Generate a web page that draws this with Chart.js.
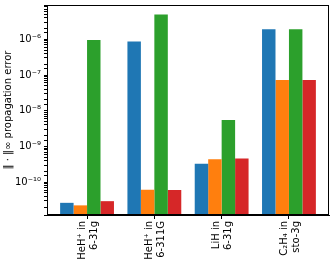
<!DOCTYPE html>
<html>
<head>
<meta charset="utf-8">
<script src="https://cdn.jsdelivr.net/npm/chart.js@4.4.0/dist/chart.umd.min.js"></script>
<style>
  html, body { margin: 0; padding: 0; background: #fff; }
  #wrap { width: 332px; height: 268px; }
</style>
</head>
<body>
<div id="wrap"><canvas id="chart"></canvas></div>
<script>
// systems / basis sets on the x axis
const systems = [
  ['HeH\u207A in', '6-31g'],
  ['HeH\u207A in', '6-311G'],
  ['LiH in', '6-31g'],
  ['C\u2082H\u2084 in', 'sto-3g'],
];

// propagation error per method
const errBlue   = [2.65e-11, 8.6e-7, 3.3e-10, 1.9e-6];
const errOrange = [2.25e-11, 6.2e-11, 4.4e-10, 7.2e-8];
const errGreen  = [9.5e-7, 4.9e-6, 5.5e-9, 1.9e-6];
const errRed    = [2.95e-11, 6.1e-11, 4.6e-10, 7.2e-8];

const supDigits = { '-': '\u207B', '0': '\u2070', '1': '\u00B9', '2': '\u00B2', '3': '\u00B3',
  '4': '\u2074', '5': '\u2075', '6': '\u2076', '7': '\u2077', '8': '\u2078', '9': '\u2079' };

const toPoints = (arr) => arr.map((v, i) => ({ x: i, y: v }));

const frame = {
  id: 'frame',
  afterDraw(chart) {
    const a = chart.chartArea;
    const ctx = chart.ctx;
    ctx.save();
    ctx.strokeStyle = '#000';
    ctx.lineWidth = 1;
    ctx.strokeRect(a.left + 0.5, a.top + 0.5, a.right - a.left - 1, a.bottom - a.top - 1);
    ctx.restore();
  }
};

Chart.defaults.font.family = 'DejaVu Sans';
Chart.defaults.color = '#000';

const canvas = document.getElementById('chart');
new Chart(canvas, {
  type: 'bar',
  data: {
    datasets: [
      { label: 'blue', data: toPoints(errBlue), backgroundColor: '#1f77b4' },
      { label: 'orange', data: toPoints(errOrange), backgroundColor: '#ff7f0e' },
      { label: 'green', data: toPoints(errGreen), backgroundColor: '#2ca02c' },
      { label: 'red', data: toPoints(errRed), backgroundColor: '#d62728' },
    ],
  },
  options: {
    responsive: true,
    maintainAspectRatio: false,
    animation: false,
    layout: { padding: { top: 5, right: 3, left: 0, bottom: 0 } },
    datasets: { bar: { categoryPercentage: 0.8, barPercentage: 1.0, base: 1e-12 } },
    plugins: { legend: { display: false }, tooltip: { enabled: false } },
    scales: {
      x: {
        type: 'linear',
        min: -0.595,
        max: 3.595,
        offset: false,
        grid: { drawOnChartArea: false, offset: false, tickLength: 4, color: '#000' },
        border: { color: '#000' },
        afterBuildTicks: (axis) => { axis.ticks = systems.map((s, i) => ({ value: i })); },
        afterFit: (axis) => {
          axis.height = 53;
          axis.paddingLeft = 0;
          axis.paddingRight = 0;
        },
        ticks: {
          minRotation: 90,
          maxRotation: 90,
          autoSkip: false,
          padding: 2,
          labelOffset: -5,
          font: { size: 10 },
          callback: (v) => systems[v],
        },
      },
      y: {
        type: 'logarithmic',
        min: 1.21e-11,
        max: 9.1e-6,
        grid: { drawOnChartArea: false, tickLength: 3, color: '#000' },
        border: { color: '#000' },
        afterFit: (axis) => {
          axis.width = 47;
          axis.paddingTop = 0;
          axis.paddingBottom = 0;
        },
        ticks: {
          autoSkip: false,
          padding: 3,
          font: { size: 10 },
          callback: (v) => {
            const e = Math.log10(v);
            if (Math.abs(e - Math.round(e)) > 1e-6) return '';
            return '10' + String(Math.round(e)).split('').map((c) => supDigits[c]).join('');
          },
        },
        title: {
          display: true,
          text: '\u2016 \u00B7 \u2016\u221E propagation error',
          font: { size: 10 },
          padding: { top: 2, bottom: 0 },
        },
      },
    },
  },
  plugins: [frame],
});
</script>
</body>
</html>
